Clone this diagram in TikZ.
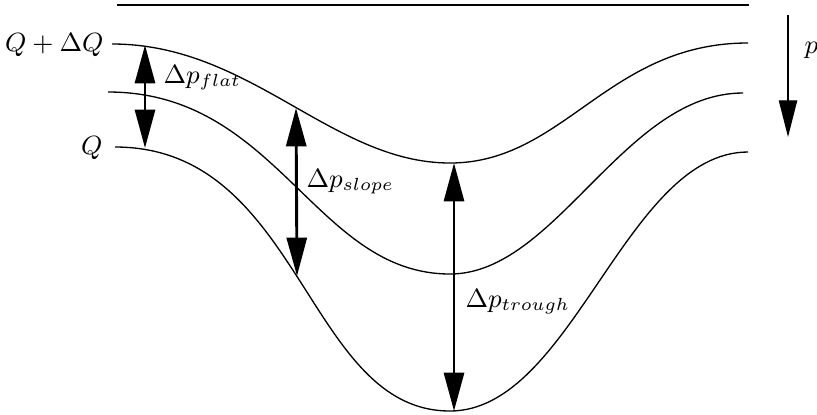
\documentclass[tikz,border=0pt]{standalone}
\usepackage{xcolor}
\usepackage{tikz}
\usetikzlibrary{positioning,arrows.meta}
\begin{document}
\begin{tikzpicture}[
        x=0.12mm, y=-0.12mm,
        curve/.style={line width=0.45pt},
        span/.style={{Triangle[length=4.6mm,width=2.4mm]}-{Triangle[length=4.6mm,width=2.4mm]},
                     line width=1pt},
        down/.style={-{Triangle[length=4.4mm,width=2.2mm]}, line width=0.45pt},
        lbl/.style={inner sep=1pt, font=\fontsize{9pt}{11pt}\selectfont}
    ]
    \useasboundingbox (0,0) rectangle (817,414);

    \draw[line width=0.7pt] (117,5) -- (749,5);

    % three isobars
    \draw[curve] (112,44) .. controls (251,44) and (332,163) .. (450,163)
        .. controls (564,163) and (608,43) .. (748,43);
    \draw[curve] (108,92) .. controls (278,92) and (315,274) .. (450,274)
        .. controls (556,274) and (624,93) .. (743,93);
    \draw[curve] (115,147) .. controls (302,147) and (306,411) .. (450,411)
        .. controls (572,411) and (626,152) .. (748,152);

    \coordinate (flattop) at (145,45);
    \coordinate (flatbot) at (145,148);
    \coordinate (slopetop) at (296,108);
    \coordinate (slopebot) at (297,276);
    \coordinate (troughtop) at (454,163);
    \coordinate (troughbot) at (454,411);
    \coordinate (ptop) at (788,15);
    \coordinate (pbot) at (788,137);

    \node[lbl, anchor=east] (qdq) at (107,45) {$Q+\Delta Q$};
    \node[lbl, anchor=east] (q) at (106,148) {$Q$};
    \node[lbl, anchor=west] (dflat) at (160,78) {$\Delta p_{flat}$};
    \node[lbl, anchor=west] (dslope) at (303,182) {$\Delta p_{slope}$};
    \node[lbl, anchor=west] (dtrough) at (462,302) {$\Delta p_{trough}$};
    \node[lbl, anchor=west] (p) at (801,50) {$p$};

    \draw[span] (flattop) -- (flatbot);
    \draw[span] (slopetop) -- (slopebot);
    \draw[span] (troughtop) -- (troughbot);
    \draw[down] (ptop) -- (pbot);
\end{tikzpicture}
\end{document}
